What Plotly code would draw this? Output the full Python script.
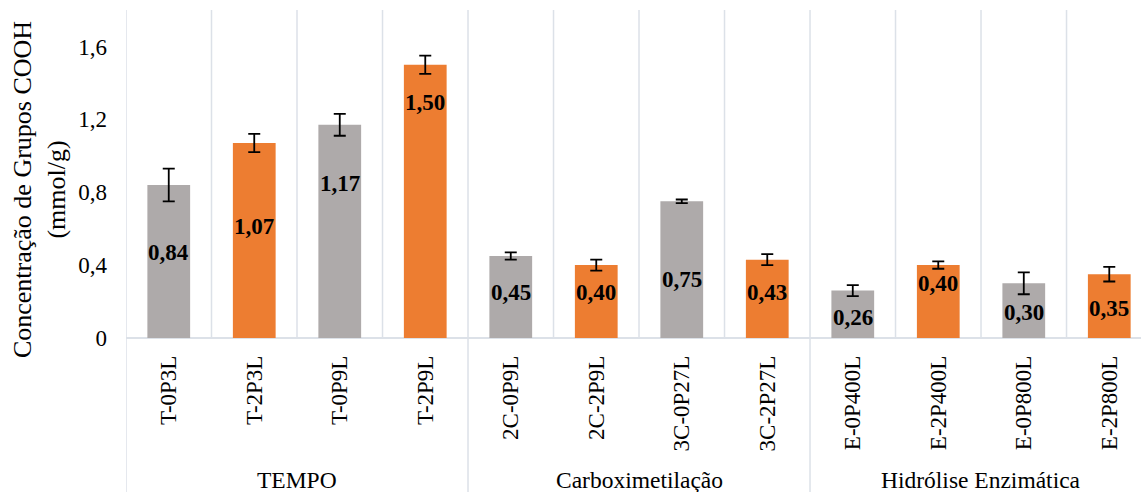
import plotly.graph_objects as go

categories = ["T-0P3L", "T-2P3L", "T-0P9L", "T-2P9L",
              "2C-0P9L", "2C-2P9L", "3C-0P27L", "3C-2P27L",
              "E-0P400L", "E-2P400L", "E-0P800L", "E-2P800L"]
values = [0.84, 1.07, 1.17, 1.50, 0.45, 0.40, 0.75, 0.43, 0.26, 0.40, 0.30, 0.35]
errors = [0.09, 0.05, 0.06, 0.05, 0.02, 0.03, 0.01, 0.03, 0.03, 0.02, 0.06, 0.04]
label_y = [0.47, 0.61, 0.85, 1.29, 0.25, 0.25, 0.32, 0.25, 0.11, 0.30, 0.14, 0.16]
groups = ["TEMPO", "Carboximetilação", "Hidrólise Enzimática"]
group_sizes = [4, 4, 4]
y_ticks = [0, 0.4, 0.8, 1.2, 1.6]
y_ticktext = ["0", "0,4", "0,8", "1,2", "1,6"]

GRAY = "#AEAAAA"
ORANGE = "#ED7D31"
GRID = "#DCE1E8"
FONT = "Liberation Serif, Times New Roman, serif"

x_idx = list(range(len(categories)))
colors = [GRAY if i % 2 == 0 else ORANGE for i in x_idx]

fig = go.Figure()
fig.add_trace(go.Bar(
    x=x_idx, y=values, width=0.5, marker=dict(color=colors, line=dict(width=0)),
    error_y=dict(type="data", array=errors, visible=True, color="black",
                 thickness=1.8, width=6),
    hoverinfo="skip",
))

shapes = []
# category separators (vertical gridlines)
for i in range(len(categories) + 1):
    shapes.append(dict(type="line", xref="x", yref="paper",
                       x0=i - 0.5, x1=i - 0.5, y0=0, y1=1,
                       line=dict(color=GRID, width=1.5), layer="below"))
# group separators extending below axis
pos = -0.5
bounds = [pos]
for s in group_sizes:
    pos += s
    bounds.append(pos)
for b in bounds:
    shapes.append(dict(type="line", xref="x", yref="paper",
                       x0=b, x1=b, y0=-0.48, y1=0,
                       line=dict(color=GRID, width=1.5), layer="below"))
# bottom axis line
shapes.append(dict(type="line", xref="paper", yref="paper", x0=0, x1=1, y0=0, y1=0,
                   line=dict(color=GRID, width=2), layer="below"))

annotations = []
for i, v in enumerate(values):
    annotations.append(dict(x=i, y=label_y[i], xref="x", yref="y",
                            text="<b>" + f"{v:.2f}".replace(".", ",") + "</b>",
                            showarrow=False, font=dict(family=FONT, size=23, color="black"),
                            xanchor="center", yanchor="middle"))
start = 0
for g, s in zip(groups, group_sizes):
    center = start + (s - 1) / 2
    annotations.append(dict(x=center, y=-0.433, xref="x", yref="paper", text=g,
                            showarrow=False, font=dict(family=FONT, size=23.5, color="black"),
                            xanchor="center", yanchor="middle"))
    start += s
annotations.append(dict(x=-0.0857, y=0.451, xref="paper", yref="paper",
                        text="Concentração de Grupos COOH<br>(mmol/g)",
                        textangle=-90, showarrow=False,
                        font=dict(family=FONT, size=26, color="black"),
                        xanchor="center", yanchor="middle"))

fig.update_layout(
    width=1141, height=492,
    margin=dict(l=126, r=0, t=10, b=154),
    paper_bgcolor="white", plot_bgcolor="white",
    showlegend=False,
    bargap=0.5,
    shapes=shapes,
    annotations=annotations,
    xaxis=dict(range=[-0.5, 11.371], tickvals=x_idx, ticktext=categories,
               tickangle=-90, showgrid=False, zeroline=False, showline=False,
               ticks="", ticklabelstandoff=12, automargin=False,
               tickfont=dict(family=FONT, size=23, color="black")),
    yaxis=dict(range=[0, 1.8], tickvals=y_ticks, ticktext=y_ticktext,
               showgrid=False, zeroline=False, showline=False, ticks="",
               ticklabelstandoff=18, automargin=False,
               tickfont=dict(family=FONT, size=23, color="black")),
)

fig.write_html("out.html", config={"displayModeBar": False},
               post_script="document.body.style.margin='0';")
